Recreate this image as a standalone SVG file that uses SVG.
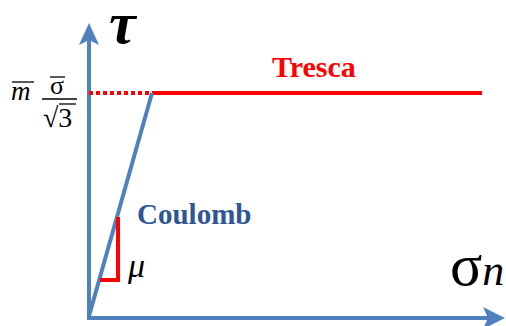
<svg xmlns="http://www.w3.org/2000/svg" width="506" height="326" viewBox="0 0 506 326">
<defs>
<style>
.ax{stroke:#4F81BD;stroke-width:4;fill:none}
.red{stroke:#FF0000;stroke-width:4;fill:none}
.ah{fill:#4F81BD}
.lbl{font-family:"Liberation Serif","DejaVu Serif",serif}
.rule{stroke:#000;stroke-width:1.3}
</style>
</defs>
<rect width="506" height="326" fill="#fff"/>
<g id="connectors">
<line class="ax" x1="89" y1="318" x2="89" y2="40"/>
<polygon class="ah" points="89,23 99,45 89,40 79,45"/>
<line class="ax" x1="87" y1="318" x2="488" y2="318"/>
<polygon class="ah" points="505,318 483,307 488,318 483,329"/>
<line class="red" x1="89" y1="93" x2="152" y2="93" stroke-dasharray="4,3"/>
<line class="red" x1="152" y1="93" x2="482" y2="93"/>
<line class="ax" x1="89" y1="316" x2="152" y2="93"/>
<polyline class="red" points="100,280 118,280 118,217" stroke-width="3"/>
</g>
<g id="tau"><text class="lbl" x="109" y="43" font-size="60" font-style="italic" font-weight="bold">τ</text></g>
<g id="sigman"><text class="lbl" x="450" y="285" font-size="60">σ<tspan font-style="italic" font-size="44">n</tspan></text></g>
<g id="tresca"><text class="lbl" x="272" y="77" font-size="30" font-weight="bold" fill="#FF0000">Tresca</text></g>
<g id="coulomb"><text class="lbl" x="137" y="224" font-size="29" font-weight="bold" fill="#2F5597">Coulomb</text></g>
<g id="mu"><text class="lbl" x="128" y="277" font-size="34" font-style="italic">μ</text></g>
<g id="yield">
<text class="lbl" x="11" y="100" font-size="27" font-style="italic">m</text>
<line class="rule" x1="12" y1="82" x2="34" y2="82"/>
<text class="lbl" x="50" y="94" font-size="26">σ</text>
<line class="rule" x1="50" y1="77" x2="65" y2="77"/>
<line class="rule" x1="42" y1="99" x2="77" y2="99"/>
<text class="lbl" x="43" y="127" font-size="28">√3</text>
<line class="rule" x1="59" y1="104" x2="76" y2="104"/>
</g>
</svg>
